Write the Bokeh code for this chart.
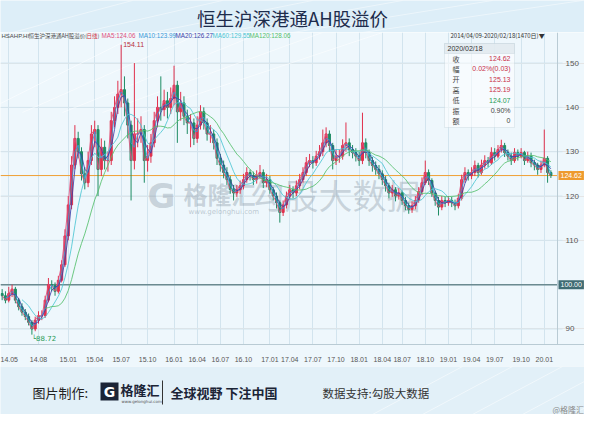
import pandas as pd
from bokeh.plotting import figure
from bokeh.layouts import column
from bokeh.models import ColumnDataSource, Range1d, FixedTicker, Label, Span, BoxAnnotation
from bokeh.core.properties import value
from bokeh.embed import file_html
from bokeh.resources import INLINE

# ---------------- data (roughly 8-9 trading days per bar) -------------
first_open = 98.0
closes = [
    97.5, 96.5, 98.0, 99.0, 96.5, 95.0, 93.8, 92.8, 91.5, 90.0,
    92.0, 93.0, 93.0, 96.5, 100.0, 99.8, 98.5, 101.0, 104.5, 111.0,
    118.0, 127.0, 133.0, 130.0, 125.0, 123.0, 128.0, 134.0, 135.0, 126.0,
    131.0, 128.0, 128.0, 137.0, 140.0, 143.0, 144.0, 141.0, 136.0, 128.0,
    134.0, 134.0, 135.0, 128.0, 129.0, 132.0, 137.0, 140.0, 139.5, 141.5,
    140.0, 142.0, 145.0, 139.0, 141.0, 138.0, 136.5, 136.5, 133.0, 136.0,
    139.0, 136.5, 134.0, 134.0, 132.0, 128.5, 127.0, 125.3, 123.7, 121.5,
    120.7, 121.4, 122.3, 123.7, 125.3, 124.6, 123.7, 124.6, 125.3, 123.0,
    123.7, 121.4, 120.0, 118.5, 116.3, 118.0, 120.0, 121.4, 120.7, 122.3,
    123.7, 125.3, 127.5, 128.0, 127.5, 129.0, 130.0, 132.0, 134.0, 131.4,
    128.0, 129.0, 129.0, 131.4, 132.0, 130.5, 129.8, 129.0, 128.0, 132.0,
    129.8, 128.0, 126.9, 126.0, 125.0, 123.7, 122.3, 120.7, 121.4, 120.0,
    120.7, 119.0, 117.8, 117.0, 117.8, 119.0, 121.0, 123.0, 125.3, 123.5,
    120.7, 119.0, 117.5, 119.0, 118.5, 119.0, 118.5, 117.8, 119.5, 123.7,
    125.3, 124.6, 125.3, 126.9, 125.3, 127.0, 128.0, 127.5, 129.8, 129.0,
    130.5, 131.4, 129.8, 129.0, 128.0, 129.8, 129.0, 129.8, 128.0, 129.0,
    127.5, 127.0, 126.0, 127.0, 128.5, 125.3, 124.62,
]
highs = [
    99.0, 98.5, 99.5, 100.0, 99.5, 97.0, 95.8, 94.5, 93.5, 92.0,
    92.8, 94.0, 94.2, 97.5, 101.5, 101.0, 100.5, 102.0, 105.5, 112.5,
    120.0, 129.0, 136.0, 134.5, 131.0, 126.5, 130.0, 136.0, 137.0, 136.0,
    133.0, 132.5, 130.0, 139.0, 142.5, 146.0, 154.11, 147.0, 142.0, 137.0,
    150.0, 137.5, 138.0, 136.0, 131.5, 134.0, 139.0, 142.5, 147.0, 144.0,
    143.5, 144.5, 149.4, 146.0, 143.5, 142.5, 139.5, 138.5, 137.5, 138.0,
    140.5, 140.0, 137.5, 136.0, 135.0, 133.0, 129.5, 128.0, 126.5, 124.5,
    122.5, 122.5, 123.5, 125.0, 126.5, 126.0, 125.5, 125.8, 127.0, 126.0,
    125.0, 124.5, 122.0, 120.8, 119.0, 119.0, 121.0, 122.5, 122.2, 123.5,
    125.0, 126.5, 128.8, 129.5, 129.0, 130.2, 131.5, 135.0, 135.5, 134.8,
    132.0, 130.5, 130.5, 132.8, 136.6, 133.0, 131.5, 130.8, 130.0, 138.8,
    133.0, 130.5, 128.8, 127.8, 127.0, 125.8, 124.5, 123.0, 122.5, 122.0,
    121.8, 121.2, 119.8, 118.5, 118.8, 120.0, 122.0, 124.2, 128.0, 126.0,
    124.0, 121.2, 119.8, 120.0, 119.8, 120.0, 119.8, 119.2, 120.5, 124.8,
    126.5, 126.0, 126.5, 128.0, 127.5, 128.2, 129.2, 128.8, 131.0, 130.8,
    131.5, 132.7, 132.0, 130.5, 129.8, 130.8, 130.5, 130.8, 130.2, 130.0,
    129.8, 128.2, 127.5, 128.0, 135.0, 129.0, 125.8,
]
lows = [
    96.5, 95.8, 96.0, 97.2, 95.8, 94.2, 93.0, 92.0, 90.8, 88.72,
    89.5, 91.2, 92.0, 92.5, 96.0, 98.5, 97.5, 98.0, 100.5, 104.0,
    110.0, 117.0, 126.0, 128.5, 123.5, 121.5, 122.0, 127.0, 131.0, 120.0,
    124.5, 126.0, 125.5, 127.0, 135.5, 138.5, 140.0, 138.0, 133.0, 119.0,
    126.0, 131.0, 132.0, 123.0, 125.5, 127.5, 131.0, 135.5, 137.0, 138.0,
    137.5, 138.5, 140.5, 132.0, 137.0, 136.0, 134.0, 131.0, 131.5, 132.0,
    135.0, 135.0, 132.5, 132.0, 130.5, 127.0, 125.5, 124.0, 122.5, 120.5,
    119.0, 119.8, 120.5, 121.5, 123.0, 123.5, 122.5, 122.8, 123.8, 121.8,
    122.0, 120.5, 119.0, 117.2, 114.0, 115.5, 117.2, 119.2, 119.5, 120.0,
    121.5, 123.0, 124.5, 126.5, 126.2, 126.8, 128.2, 129.0, 131.0, 130.0,
    126.0, 127.0, 127.5, 128.2, 130.0, 129.0, 128.5, 127.8, 126.8, 127.2,
    128.5, 126.8, 125.5, 124.8, 123.8, 122.5, 121.0, 119.5, 119.8, 118.8,
    119.2, 118.0, 116.8, 116.0, 116.2, 117.0, 118.5, 120.2, 122.5, 122.5,
    119.8, 117.8, 115.6, 116.8, 117.5, 117.8, 117.5, 116.8, 117.2, 119.0,
    123.0, 123.5, 123.8, 124.5, 124.2, 124.8, 126.2, 126.5, 127.0, 128.0,
    128.5, 129.8, 128.8, 128.0, 127.0, 127.5, 128.0, 128.5, 127.0, 127.5,
    126.5, 125.8, 124.8, 125.2, 126.5, 123.0, 124.07,
]
last_close = 124.62
base_level = 100.0
peak_value = 154.11
trough_value = 88.72

tick_pos = [2, 11, 20, 28, 36, 44, 52, 59, 66, 73, 81, 87, 94, 101, 108, 115, 121, 128, 135, 142, 149, 157, 164]
tick_labels = ["14.05", "14.08", "15.01", "15.04", "15.07", "15.10", "16.01", "16.04", "16.07", "16.10",
               "17.01", "17.04", "17.07", "17.10", "18.01", "18.04", "18.07", "18.10", "19.01", "19.04",
               "19.07", "19.10", "20.01"]
y_ticks = [90, 100, 110, 120, 130, 140, 150]

ma_names = ["MA5", "MA10", "MA20", "MA60", "MA120"]
ma_bars = [1, 2, 3, 7, 14]          # window lengths in bars (~ trading days / 8.8)
ma_values_text = ["124.06", "123.99", "126.27", "129.55", "128.06"]
ma_colors = ["#e0507e", "#3a9ad9", "#3b3fa8", "#4cc6d4", "#55bf6c"]

info_keys = ["收", "幅", "开", "高", "低", "振", "额"]
info_vals = ["124.62", "0.02%(0.03)", "125.13", "125.19", "124.07", "0.90%", "0"]
info_cols = ["#c8304a", "#c8304a", "#c8304a", "#c8304a", "#1f9a55", "#444444", "#444444"]

# ---------------- derived ----------------
n = len(closes)
opens = [first_open] + closes[:-1]
idx = list(range(n))
UP_C, DN_C = "#e0304c", "#1e8c64"
src = ColumnDataSource(dict(
    x=idx, o=opens, c=closes, h=highs, l=lows,
    top=[max(o, c) for o, c in zip(opens, closes)],
    bot=[min(o, c) for o, c in zip(opens, closes)],
    col=[UP_C if c >= o else DN_C for o, c in zip(opens, closes)],
))
cs = pd.Series(closes)

CJK = "Noto Sans CJK SC"
LAT = "Liberation Sans"
BG_TOP = "#ddeef8"
BG_MID = "#eef7fc"
BG_BOT = "#e2f0f8"
W = 584

# ---------------- header figure (page y 8..40) ----------------
HH = 32
hdr = figure(width=W, height=HH, x_range=Range1d(8, 8 + W), y_range=Range1d(8 + HH, 8),
             output_backend="svg", toolbar_location=None, min_border=0,
             x_axis_location=None, y_axis_location=None)
hdr.grid.visible = False
hdr.outline_line_color = None
hdr.background_fill_color = BG_TOP
hdr.border_fill_color = BG_TOP
for k in range(6):
    hdr.line([20 + 70 * k, 140 + 90 * k], [40, 8], line_color="white", line_alpha=0.45, line_width=1)
hdr.text(x=[300], y=[25], text=["恒生沪深港通AH股溢价"], text_align="center", text_baseline="middle",
         text_font=value(CJK), text_font_size="18.5px", text_color="#1d2c4c")

# ---------------- main figure (page y 40..374) ----------------
FL, FR, FT, FB = 8, 592, 40, 352
MB = 22
X0 = -0.5
X1 = X0 + (FR - FL) / 557 * 168.5
Y0 = 86.5
Y1 = 157.8 - (FT - 36) / 4.43
STRIP = 565


def dx(px):
    return X0 + (px - FL) / (FR - FL) * (X1 - X0)


def dy(py):
    return Y1 - (py - FT) / (FB - FT) * (Y1 - Y0)


p = figure(width=W, height=(FB - FT) + MB, x_range=Range1d(X0, X1), y_range=Range1d(Y0, Y1),
           output_backend="svg", toolbar_location=None, y_axis_location=None,
           min_border_left=0, min_border_right=0, min_border_top=0, min_border_bottom=MB)
p.border_fill_color = BG_MID
p.background_fill_color = BG_MID
p.outline_line_color = None

p.xaxis.ticker = FixedTicker(ticks=tick_pos)
p.xaxis.major_label_overrides = {t: s for t, s in zip(tick_pos, tick_labels)}
p.xaxis.major_label_text_font_size = "7px"
p.xaxis.major_label_text_color = "#555555"
p.xaxis.major_label_text_font = LAT
p.xaxis.axis_line_color = "#b9cbd4"
p.xaxis.major_tick_line_color = None
p.xaxis.minor_tick_line_color = None
p.xaxis.major_label_standoff = 6
p.xgrid.grid_line_color = "#d2e4ee"

# horizontal grid + right value scale
p.segment(x0=[X0] * len(y_ticks), y0=y_ticks, x1=[dx(570)] * len(y_ticks), y1=y_ticks,
          line_color="#d2e4ee", line_width=1)
p.add_layout(Span(location=dx(STRIP), dimension="height", line_color="#b9cbd4", line_width=1))
p.text(x=[dx(573)] * len(y_ticks), y=y_ticks, text=[str(v) for v in y_ticks], text_baseline="middle",
       text_font=value(LAT), text_font_size="8px", text_color="#555555")

# faint decorative lines at the top left
for k in range(5):
    p.line([dx(-10 + 40 * k), dx(150 + 60 * k)], [dy(120), dy(40)], line_color="white", line_alpha=0.5)

# watermark
wm = "#8a97a6"
p.text(x=[dx(155)], y=[dy(203)], text=["G"], text_font=value("DejaVu Sans"), text_font_style="bold",
       text_font_size="34px", text_color=wm, text_alpha=0.4, text_baseline="middle")
p.text(x=[dx(191)], y=[dy(201)], text=["格隆汇"], text_font=value(CJK), text_font_style="bold",
       text_font_size="24px", text_color=wm, text_alpha=0.4, text_baseline="middle")
p.text(x=[dx(196)], y=[dy(219)], text=["www.gelonghui.com"], text_font=value("DejaVu Sans"),
       text_font_size="7px", text_color=wm, text_alpha=0.5, text_baseline="middle")
p.text(x=[dx(258)], y=[dy(202)], text=["勾股大数据"], text_font=value(CJK),
       text_font_size="34px", text_color=wm, text_alpha=0.38, text_baseline="middle")

# reference lines
p.segment(x0=[X0], y0=[base_level], x1=[dx(STRIP)], y1=[base_level], line_color="#6b8a90", line_width=1.5)
p.segment(x0=[X0], y0=[last_close], x1=[dx(STRIP)], y1=[last_close], line_color="#efa035", line_width=1)

# candles
p.segment(x0="x", y0="l", x1="x", y1="h", color="col", line_width=1, source=src)
p.vbar(x="x", top="top", bottom="bot", width=0.62, fill_color="col", line_color="col", source=src)

# moving averages
for name, wnd, colr in zip(ma_names, ma_bars, ma_colors):
    ma = cs.rolling(wnd, min_periods=wnd).mean()
    p.line(idx, ma.tolist(), line_color=colr, line_width=1, line_alpha=0.85)

# extreme labels
p.add_layout(Label(x=36, y=peak_value, text=f"{peak_value:.2f}", text_font_size="7px",
                   text_font=LAT, text_color="#b8303c", x_offset=2, text_baseline="middle"))
p.add_layout(Label(x=9, y=trough_value, text=f"└{trough_value:.2f}", text_font_size="7px",
                   text_font="DejaVu Sans", text_color="#1f9a55", y_offset=-4, text_baseline="middle"))

# right-side value tags
p.add_layout(Label(x=dx(566), y=last_close, text=f"{last_close:.2f}", text_font_size="7px",
                   text_font=LAT, text_color="white", background_fill_color="#ee9a2e",
                   text_baseline="middle", padding=2))
p.add_layout(Label(x=dx(566), y=base_level, text=f"{base_level:.2f}", text_font_size="7px",
                   text_font=LAT, text_color="white", background_fill_color="#3f6b73",
                   text_baseline="middle", padding=2))

# legend line
LY = dy(43)
legend_parts = [("HSAHP.HI", "#4a4a4a", 9, LAT, "6px"),
                ("恒生沪深港通AH股溢价(", "#4a4a4a", 36, CJK, "5.5px"),
                ("日线", "#d0303c", 94, CJK, "5.5px"),
                (")", "#4a4a4a", 105, CJK, "5.5px")]
for name, val, colr, xp in zip(ma_names, ma_values_text, ma_colors, [109, 146, 183, 220, 257]):
    legend_parts.append((f"{name}:{val}", colr, xp, LAT, "6.3px"))
for t, colr, xp, fnt, fs in legend_parts:
    p.add_layout(Label(x=dx(xp), y=LY, text=t, text_font=fnt, text_font_size=fs,
                       text_color=colr, text_baseline="middle"))
p.add_layout(Label(x=dx(458), y=LY, text="2014/04/09-2020/02/18(1470日)▼", text_font=CJK,
                   text_font_size="6px", text_color="#333333", text_baseline="middle"))

# info box
p.add_layout(BoxAnnotation(left=dx(452), right=dx(522), top=dy(51), bottom=dy(135),
                           fill_color="white", fill_alpha=0.55, line_color="#b5c6cf", line_width=1))
p.add_layout(BoxAnnotation(left=dx(452), right=dx(522), top=dy(51), bottom=dy(61),
                           fill_color="#dfe8ee", fill_alpha=0.8, line_color="#b5c6cf", line_width=1))
p.add_layout(Label(x=dx(455), y=dy(56), text="2020/02/18", text_font=LAT,
                   text_font_size="7px", text_color="#333333", text_baseline="middle"))
for i, (k, v, colr) in enumerate(zip(info_keys, info_vals, info_cols)):
    yy = 66 + i * 10.4
    p.add_layout(Label(x=dx(460), y=dy(yy), text=k, text_font=CJK, text_font_size="7px",
                       text_color="#444444", text_baseline="middle"))
    p.add_layout(Label(x=dx(518), y=dy(yy), text=v, text_font=LAT, text_font_size="7px",
                       text_color=colr, text_baseline="middle", text_align="right"))

# ---------------- footer figure (page y 374..422) ----------------
FH = 48
F0 = 374
ftr = figure(width=W, height=FH, x_range=Range1d(8, 8 + W), y_range=Range1d(F0 + FH, F0),
             output_backend="svg", toolbar_location=None, min_border=0,
             x_axis_location=None, y_axis_location=None)
ftr.grid.visible = False
ftr.outline_line_color = None
ftr.background_fill_color = BG_BOT
ftr.border_fill_color = BG_BOT
for k in range(5):
    ftr.line([380 + 50 * k, 470 + 50 * k], [422, 374], line_color="white", line_alpha=0.5)
ftr.text(x=[40], y=[400], text=["图片制作:"], text_font=value(CJK), text_font_size="13px",
         text_color="#222222", text_baseline="middle")
ftr.rect(x=[117], y=[399], width=18, height=18, fill_color="#1b2436", line_color=None)
ftr.text(x=[117], y=[399.5], text=["G"], text_font=value("DejaVu Sans"), text_font_style="bold",
         text_font_size="14px", text_color="white", text_align="center", text_baseline="middle")
ftr.text(x=[128], y=[397], text=["格隆汇"], text_font=value(CJK), text_font_style="bold",
         text_font_size="13px", text_color="#1b2436", text_baseline="middle")
ftr.text(x=[129], y=[409], text=["www.gelonghui.com"], text_font=value("DejaVu Sans"),
         text_font_size="4px", text_color="#555555", text_baseline="middle")
ftr.segment(x0=[170], y0=[388], x1=[170], y1=[412], line_color="#333333", line_width=1)
ftr.text(x=[178], y=[400], text=["全球视野 下注中国"], text_font=value(CJK), text_font_style="bold",
         text_font_size="13px", text_color="#1b2436", text_baseline="middle")
ftr.text(x=[330], y=[400], text=["数据支持:勾股大数据"], text_font=value(CJK),
         text_font_size="11.5px", text_color="#333333", text_baseline="middle")
ftr.text(x=[560], y=[417], text=["@格隆汇"], text_font=value(CJK),
         text_font_size="8px", text_color="#8a8a8a", text_baseline="middle")

layout = column(hdr, p, ftr, spacing=0)
open("out.html", "w").write(file_html(layout, INLINE))
